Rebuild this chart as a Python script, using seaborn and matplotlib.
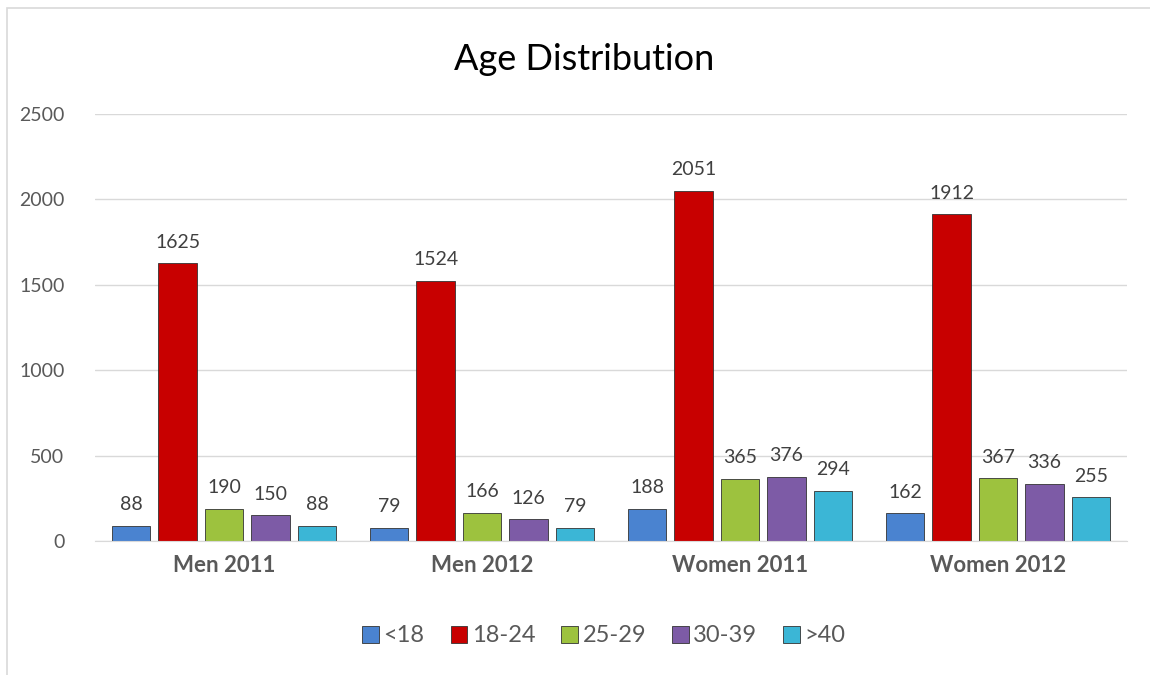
import matplotlib as mpl
mpl.use("Agg")
import matplotlib.pyplot as plt
import matplotlib.patches as mpatches
import numpy as np
import pandas as pd
import seaborn as sns

groups = ["Men 2011", "Men 2012", "Women 2011", "Women 2012"]
ages = ["<18", "18-24", "25-29", "30-39", ">40"]
under18 = [88, 79, 188, 162]
age18_24 = [1625, 1524, 2051, 1912]
age25_29 = [190, 166, 365, 367]
age30_39 = [150, 126, 376, 336]
over40 = [88, 79, 294, 255]

colors = ["#4a83d0", "#c80000", "#9dc23e", "#7d5ba6", "#3bb6d6"]

series = [under18, age18_24, age25_29, age30_39, over40]
rows = []
for age, vals in zip(ages, series):
    for g, v in zip(groups, vals):
        rows.append({"group": g, "age": age, "count": v})
df = pd.DataFrame(rows)

sns.set_style("white")
plt.rcParams["font.family"] = ["Lato", "DejaVu Sans"]

fig = plt.figure(figsize=(11.5, 6.75), dpi=100)
ax = fig.add_axes([95 / 1150, 1 - 541 / 675, (1127 - 95) / 1150, (541 - 114) / 675])

sns.barplot(
    data=df, x="group", y="count", hue="age", order=groups, hue_order=ages,
    palette=colors, saturation=1, width=0.9, gap=0.17, ax=ax, legend=False,
    edgecolor="#333333", linewidth=0.6,
)

for cont in ax.containers:
    ax.bar_label(cont, padding=9, fontsize=14, color="#404040")

ax.set_ylim(0, 2500)
ax.set_yticks(np.arange(0, 2501, 500))
ax.yaxis.grid(True, color="#d9d9d9", linewidth=1)
ax.set_axisbelow(True)
ax.set_xlabel("")
ax.set_ylabel("")
for s in ["top", "right", "left"]:
    ax.spines[s].set_visible(False)
ax.spines["bottom"].set_color("#d9d9d9")
ax.tick_params(axis="y", length=0, labelsize=14, labelcolor="#595959", pad=22)
ax.tick_params(axis="x", length=0, labelsize=16, labelcolor="#595959", pad=10)
for lab in ax.get_xticklabels():
    lab.set_fontweight("bold")

fig.text(584 / 1150, 1 - 60 / 675, "Age Distribution", ha="center", va="center",
         fontsize=26, color="#000000")

handles = [mpatches.Patch(facecolor=c, edgecolor="#333333", linewidth=0.6, label=a)
           for c, a in zip(colors, ages)]
fig.legend(handles=handles, loc="center", bbox_to_anchor=(604 / 1150, 1 - 636 / 675),
           ncol=5, frameon=False, fontsize=17, labelcolor="#595959",
           handlelength=0.7, handleheight=0.7, handletextpad=0.2,
           columnspacing=1.1)

frame = mpatches.Rectangle((7 / 1150, -0.1), 1.2, 1 - 8 / 675 + 0.1,
                           transform=fig.transFigure, fill=False,
                           edgecolor="#d9d9d9", linewidth=1.2)
fig.add_artist(frame)

fig.savefig("out.png", dpi=100, facecolor="white")
